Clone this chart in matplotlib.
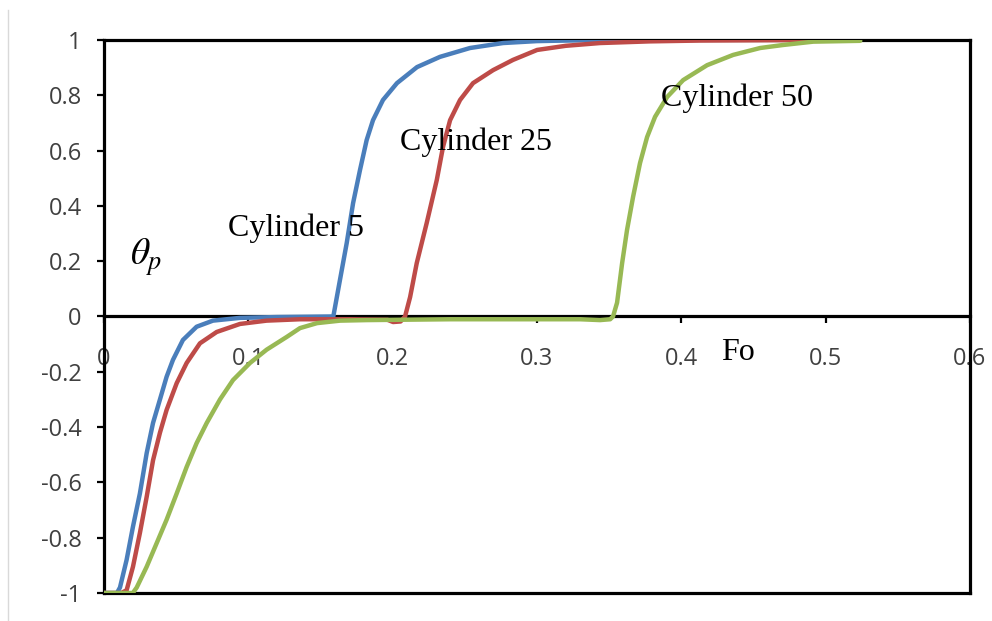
import matplotlib
matplotlib.use("Agg")
import matplotlib.pyplot as plt
from matplotlib.lines import Line2D

plt.rcParams["mathtext.fontset"] = "stix"

# ---- data (Fo vs theta_p) ----
FO_CYL5 = [0, 0.009, 0.0111, 0.0157, 0.0201, 0.0249, 0.0296, 0.034, 0.0388,
           0.0434, 0.0478, 0.0547, 0.0642, 0.0755, 0.0942, 0.12, 0.1589,
           0.1635, 0.1682, 0.1726, 0.1774, 0.182, 0.1864, 0.1933, 0.203,
           0.2169, 0.2328, 0.2536, 0.2765, 0.30, 0.33, 0.36]
TH_CYL5 = [-1, -1, -0.98, -0.88, -0.76, -0.64, -0.494, -0.385, -0.30,
           -0.218, -0.157, -0.085, -0.037, -0.015, -0.005, -0.002, 0,
           0.132, 0.266, 0.41, 0.53, 0.638, 0.71, 0.783, 0.844,
           0.902, 0.939, 0.971, 0.989, 0.996, 0.999, 1.0]

FO_CYL25 = [0, 0.012, 0.0157, 0.0201, 0.0249, 0.0296, 0.034, 0.0388, 0.0434,
            0.0504, 0.0573, 0.0665, 0.0781, 0.0942, 0.1127, 0.1358, 0.17,
            0.1965, 0.2003, 0.2055, 0.2086, 0.2121, 0.2167, 0.2236, 0.2306,
            0.2349, 0.2398, 0.2467, 0.2557, 0.2696, 0.2834, 0.3001, 0.32,
            0.3437, 0.378, 0.413, 0.45, 0.49]
TH_CYL25 = [-1, -1, -0.99, -0.905, -0.783, -0.652, -0.52, -0.42, -0.338,
            -0.241, -0.168, -0.097, -0.056, -0.027, -0.015, -0.01, -0.01,
            -0.012, -0.02, -0.018, 0, 0.07, 0.193, 0.338, 0.494,
            0.613, 0.71, 0.783, 0.844, 0.891, 0.928, 0.964, 0.979,
            0.989, 0.995, 0.998, 0.999, 1.0]

FO_CYL50 = [0, 0.02, 0.0227, 0.0296, 0.0365, 0.0434, 0.0504, 0.0573, 0.0642,
            0.0712, 0.0804, 0.0894, 0.1012, 0.1127, 0.1266, 0.1358, 0.1476,
            0.1636, 0.1823, 0.24, 0.33, 0.3437, 0.3507, 0.3527, 0.3555,
            0.359, 0.3624, 0.3666, 0.3714, 0.3763, 0.3818, 0.3902, 0.4013,
            0.4179, 0.4359, 0.4546, 0.4706, 0.4914, 0.524]
TH_CYL50 = [-1, -1, -0.98, -0.905, -0.82, -0.735, -0.64, -0.544, -0.458,
            -0.385, -0.30, -0.23, -0.168, -0.12, -0.074, -0.042, -0.024,
            -0.015, -0.013, -0.01, -0.01, -0.013, -0.01, 0, 0.05,
            0.193, 0.313, 0.433, 0.555, 0.649, 0.722, 0.794, 0.855,
            0.909, 0.946, 0.971, 0.982, 0.994, 0.997]

SERIES = [
    ("Cylinder 5", FO_CYL5, TH_CYL5, "#4A7EBB"),
    ("Cylinder 25", FO_CYL25, TH_CYL25, "#BE4B48"),
    ("Cylinder 50", FO_CYL50, TH_CYL50, "#98B954"),
]

X_TICKS = [0, 0.1, 0.2, 0.3, 0.4, 0.5, 0.6]
X_LABELS = ["0", "0.1", "0.2", "0.3", "0.4", "0.5", "0.6"]
Y_TICKS = [-1, -0.8, -0.6, -0.4, -0.2, 0, 0.2, 0.4, 0.6, 0.8, 1]
Y_LABELS = ["-1", "-0.8", "-0.6", "-0.4", "-0.2", "0", "0.2", "0.4", "0.6",
            "0.8", "1"]

# curve labels: (text, Fo, theta)
CURVE_LABELS = [("Cylinder 5", 0.086, 0.32),
                ("Cylinder 25", 0.205, 0.631),
                ("Cylinder 50", 0.386, 0.79)]

TICK_COLOR = "#404040"
SERIF = ["Liberation Serif", "DejaVu Serif"]

fig = plt.figure(figsize=(9.92, 6.21), dpi=100)
ax = fig.add_axes([0.1048, 0.0451, 0.8730, 0.8905])

for name, fo, th, col in SERIES:
    ax.plot(fo, th, color=col, lw=3.2, solid_joinstyle="round",
            solid_capstyle="round", zorder=3, label=name)

ax.set_xlim(0, 0.6)
ax.set_ylim(-1, 1)

for side in ("left", "right", "top", "bottom"):
    ax.spines[side].set_linewidth(2.3)
    ax.spines[side].set_color("black")
# x axis runs along theta = 0, box closed with a line at -1
ax.spines["bottom"].set_position(("data", 0))
ax.axhline(-1, color="black", lw=2.3, clip_on=False, zorder=2.5)

ax.set_xticks(X_TICKS)
ax.set_xticklabels(X_LABELS)
ax.set_yticks(Y_TICKS)
ax.set_yticklabels(Y_LABELS)
ax.tick_params(axis="both", direction="out", length=5, width=1.6,
               color="black", labelcolor=TICK_COLOR, labelsize=17)
ax.tick_params(axis="x", pad=17)
ax.tick_params(axis="y", pad=11)
for lab in ax.get_xticklabels() + ax.get_yticklabels():
    lab.set_family(["Open Sans", "DejaVu Sans"])

for txt, fx, fy in CURVE_LABELS:
    ax.text(fx, fy, txt, ha="left", va="center", fontsize=23,
            family=SERIF, zorder=4)

ax.text(0.439, -0.132, "Fo", ha="center", va="center", fontsize=23,
        family=SERIF)
ax.text(0.018, 0.215, r"$\theta_p$", ha="left", va="center", fontsize=27)

# faint page border on the left
fig.add_artist(Line2D([0.008, 0.008], [0, 0.984], color="#d9d9d9", lw=1,
                      transform=fig.transFigure))

fig.savefig("out.png", dpi=100)
